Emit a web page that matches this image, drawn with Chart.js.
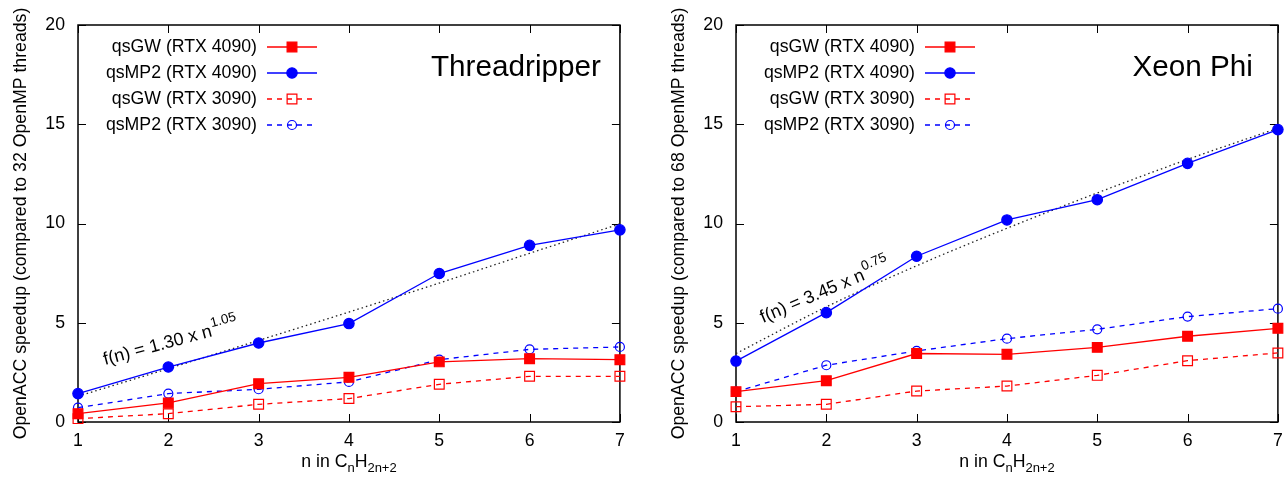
<!DOCTYPE html>
<html>
<head>
<meta charset="utf-8">
<script src="https://cdn.jsdelivr.net/npm/chart.js@4.4.1/dist/chart.umd.min.js"></script>
<style>
html, body { margin: 0; padding: 0; background: #fff; overflow: hidden; }
#wrap { position: relative; width: 1286px; height: 478px; }
canvas { position: absolute; top: 0; }
</style>
</head>
<body>
<div id="wrap">
  <canvas id="tr" width="628" height="478" style="left:0px"></canvas>
  <canvas id="xp" width="628" height="478" style="left:658px"></canvas>
</div>
<script>
// n in CnH2n+2
const N = [1, 2, 3, 4, 5, 6, 7];
const Y_TICKS = [0, 5, 10, 15, 20];

// Threadripper (speedup vs 32 OpenMP threads)
const TR_GW_4090  = [0.42, 0.96, 1.93, 2.25, 3.03, 3.19, 3.14];
const TR_MP2_4090 = [1.43, 2.77, 3.98, 4.96, 7.48, 8.90, 9.68];
const TR_GW_3090  = [0.17, 0.42, 0.89, 1.18, 1.90, 2.30, 2.30];
const TR_MP2_3090 = [0.72, 1.43, 1.65, 2.02, 3.14, 3.66, 3.78];
const TR_FIT      = [1.30, 2.69, 4.11, 5.54, 7.00, 8.50, 9.98];

// Xeon Phi (speedup vs 68 OpenMP threads)
const XP_GW_4090  = [1.53, 2.08, 3.45, 3.41, 3.76, 4.32, 4.72];
const XP_MP2_4090 = [3.07, 5.51, 8.35, 10.18, 11.20, 13.03, 14.73];
const XP_GW_3090  = [0.77, 0.89, 1.56, 1.81, 2.35, 3.09, 3.48];
const XP_MP2_3090 = [1.53, 2.86, 3.58, 4.20, 4.67, 5.31, 5.71];
const XP_FIT      = [3.45, 5.80, 7.87, 9.76, 11.54, 13.23, 14.80];

const FONT = '"Liberation Sans", Arial, Helvetica, sans-serif';
const FS = 17.7;
const RED = '#ff0000';
const BLUE = '#0000ff';

function series(label, vals, color, style, filled, dashed) {
    let r = 6.9;
    if (style === 'circle') r = filled ? 5.2 : 4.5;
    return {
        label: label,
        data: N.map((n, i) => ({ x: n, y: vals[i] })),
        borderColor: color,
        borderWidth: 1.3,
        borderDash: dashed ? [5, 5] : [],
        pointStyle: style,
        pointRadius: r,
        pointBackgroundColor: filled ? color : 'rgba(0,0,0,0)',
        pointBorderColor: color,
        pointBorderWidth: 1.2,
        tension: 0,
        fill: false,
        clip: false
    };
}

function fitLine(vals) {
    return {
        label: 'fit',
        isFit: true,
        data: N.map((n, i) => ({ x: n, y: vals[i] })),
        borderColor: '#222',
        borderWidth: 1.3,
        borderDash: [1.5, 3],
        pointRadius: 0,
        cubicInterpolationMode: 'monotone',
        fill: false,
        clip: false
    };
}

// frame, inward ticks, legend, panel name, fit label, x title
const decor = {
    id: 'decor',
    beforeDatasetsDraw(chart) {
        const { ctx, chartArea: a, scales: { x, y } } = chart;
        ctx.save();
        ctx.strokeStyle = '#000';
        ctx.lineWidth = 1;
        ctx.beginPath();
        x.ticks.forEach(t => {
            const px = Math.round(x.getPixelForValue(t.value)) + 0.5;
            ctx.moveTo(px, a.bottom); ctx.lineTo(px, a.bottom - 8);
            ctx.moveTo(px, a.top); ctx.lineTo(px, a.top + 8);
        });
        y.ticks.forEach(t => {
            const py = Math.round(y.getPixelForValue(t.value)) + 0.5;
            ctx.moveTo(a.left, py); ctx.lineTo(a.left + 8, py);
            ctx.moveTo(a.right, py); ctx.lineTo(a.right - 8, py);
        });
        ctx.stroke();
        ctx.lineWidth = 1.5;
        ctx.strokeRect(a.left, a.top, a.right - a.left, a.bottom - a.top);
        ctx.restore();
    },
    afterDatasetsDraw(chart, args, o) {
        const { ctx, chartArea: a, scales: { x, y } } = chart;
        ctx.save();
        ctx.fillStyle = '#000';

        // legend
        let row = 0;
        chart.data.datasets.forEach(ds => {
            if (ds.isFit) return;
            const cy = a.top + 22 + 26 * row;
            ctx.font = FS + 'px ' + FONT;
            ctx.textAlign = 'right';
            ctx.textBaseline = 'middle';
            ctx.fillStyle = '#000';
            ctx.fillText(ds.label, a.left + 179, cy);
            ctx.strokeStyle = ds.borderColor;
            ctx.lineWidth = 1.3;
            ctx.setLineDash(ds.borderDash);
            ctx.beginPath();
            ctx.moveTo(a.left + 189, cy); ctx.lineTo(a.left + 239, cy);
            ctx.stroke();
            ctx.setLineDash([]);
            ctx.fillStyle = ds.pointBackgroundColor;
            ctx.lineWidth = ds.pointBorderWidth;
            Chart.helpers.drawPoint(ctx, {
                pointStyle: ds.pointStyle, radius: ds.pointRadius,
                rotation: 0, borderWidth: ds.pointBorderWidth
            }, a.left + 214, cy);
            row++;
        });

        // panel name
        ctx.fillStyle = '#000';
        ctx.font = '29.7px ' + FONT;
        ctx.textAlign = 'right';
        ctx.textBaseline = 'alphabetic';
        ctx.fillText(o.panel, a.right - o.panelRight, a.top + 51);

        // fit label
        const f = o.fit;
        ctx.translate(x.getPixelForValue(f.x), y.getPixelForValue(f.y));
        ctx.rotate(f.angle * Math.PI / 180);
        ctx.textAlign = 'left';
        ctx.font = '18px ' + FONT;
        ctx.fillText(f.text, 0, 0);
        const w = ctx.measureText(f.text).width;
        ctx.font = '13.5px ' + FONT;
        ctx.fillText(f.exp, w + 1, -9);
        ctx.restore();
    },
    afterDraw(chart) {
        const { ctx, chartArea: a } = chart;
        const parts = [
            ['n in C', FS, 0], ['n', 13, 5], ['H', FS, 0], ['2n+2', 13, 5]
        ];
        ctx.save();
        ctx.fillStyle = '#000';
        ctx.textBaseline = 'alphabetic';
        ctx.textAlign = 'left';
        let total = 0;
        parts.forEach(p => { ctx.font = p[1] + 'px ' + FONT; total += ctx.measureText(p[0]).width; });
        let px = (a.left + a.right) / 2 - total / 2;
        parts.forEach(p => {
            ctx.font = p[1] + 'px ' + FONT;
            ctx.fillText(p[0], px, 467 + p[2]);
            px += ctx.measureText(p[0]).width;
        });
        ctx.restore();
    }
};

function makeChart(id, datasets, yTitle, panel, panelRight, fit) {
    return new Chart(document.getElementById(id), {
        type: 'line',
        data: { datasets: datasets },
        options: {
            responsive: false,
            animation: false,
            events: [],
            layout: { padding: { left: 0, right: 7, top: 25, bottom: 0 } },
            plugins: {
                legend: { display: false },
                tooltip: { enabled: false },
                decor: { panel: panel, panelRight: panelRight, fit: fit }
            },
            scales: {
                x: {
                    type: 'linear', min: 1, max: 7,
                    afterBuildTicks: s => { s.ticks = N.map(v => ({ value: v })); },
                    grid: { display: false, drawTicks: false },
                    border: { display: false },
                    ticks: { font: { family: FONT, size: FS }, color: '#000', padding: 8, maxRotation: 0 },
                    afterFit: s => { s.height = 56; s.paddingLeft = 0; s.paddingRight = 0; }
                },
                y: {
                    type: 'linear', min: 0, max: 20,
                    afterBuildTicks: s => { s.ticks = Y_TICKS.map(v => ({ value: v })); },
                    grid: { display: false, drawTicks: false },
                    border: { display: false },
                    ticks: { font: { family: FONT, size: FS }, color: '#000', padding: 13 },
                    title: {
                        display: true, text: yTitle, color: '#000',
                        font: { family: FONT, size: FS },
                        padding: { top: 10, bottom: 10 }
                    },
                    afterFit: s => { s.width = 78; s.paddingTop = 0; s.paddingBottom = 0; }
                }
            }
        },
        plugins: [decor]
    });
}

makeChart('tr', [
    series('qsGW (RTX 4090)', TR_GW_4090, RED, 'rect', true, false),
    series('qsMP2 (RTX 4090)', TR_MP2_4090, BLUE, 'circle', true, false),
    series('qsGW (RTX 3090)', TR_GW_3090, RED, 'rect', false, true),
    series('qsMP2 (RTX 3090)', TR_MP2_3090, BLUE, 'circle', false, true),
    fitLine(TR_FIT)
], 'OpenACC speedup (compared to 32 OpenMP threads)', 'Threadripper', 19,
   { x: 1.30, y: 2.87, angle: -15, text: 'f(n) = 1.30 x n', exp: '1.05' });

makeChart('xp', [
    series('qsGW (RTX 4090)', XP_GW_4090, RED, 'rect', true, false),
    series('qsMP2 (RTX 4090)', XP_MP2_4090, BLUE, 'circle', true, false),
    series('qsGW (RTX 3090)', XP_GW_3090, RED, 'rect', false, true),
    series('qsMP2 (RTX 3090)', XP_MP2_3090, BLUE, 'circle', false, true),
    fitLine(XP_FIT)
], 'OpenACC speedup (compared to 68 OpenMP threads)', 'Xeon Phi', 25,
   { x: 1.30, y: 4.99, angle: -23, text: 'f(n) = 3.45 x n', exp: '0.75' });
</script>
</body>
</html>
